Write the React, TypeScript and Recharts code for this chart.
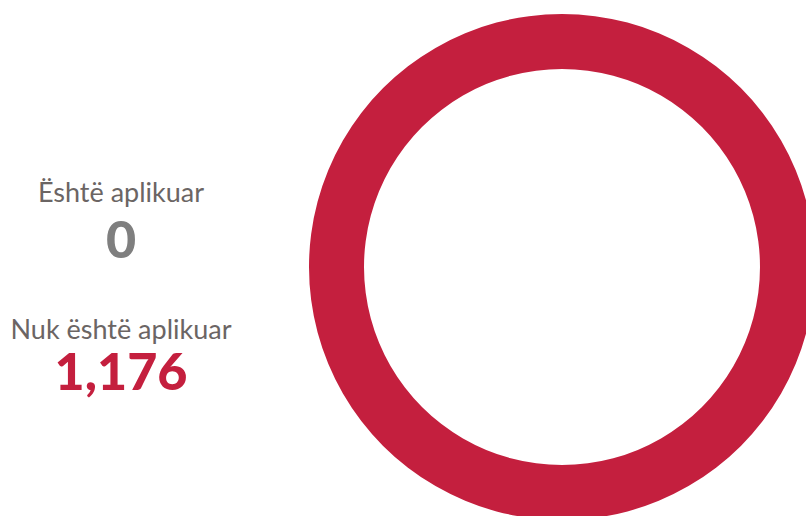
import { PieChart, Pie, Cell, Legend } from "recharts";

const labels = ["Është aplikuar", "Nuk është aplikuar"];
const values = [0, 1176];
const colors = ["#7f7f7f", "#c41f3e"];

const data = labels.map((name, i) => ({ name, value: values[i] }));

// top of each label / number line, in page pixels
const labelTops = [178, 315];
const numberTops = [214, 346];

function Summary() {
  return (
    <div style={{ position: "relative", fontFamily: "Lato, sans-serif", textAlign: "center", width: 242, height: 516 }}>
      {data.map((d, i) => (
        <div key={d.name}>
          <div
            style={{
              position: "absolute",
              left: 0,
              width: 242,
              top: labelTops[i],
              color: "#6b6564",
              fontSize: 27,
              lineHeight: "28px",
            }}
          >
            {d.name}
          </div>
          <div
            style={{
              position: "absolute",
              left: 0,
              width: 242,
              top: numberTops[i],
              color: colors[i],
              fontSize: 52,
              fontWeight: 900,
              lineHeight: "48px",
            }}
          >
            {d.value.toLocaleString("en-US")}
          </div>
        </div>
      ))}
    </div>
  );
}

export default function App() {
  return (
    <div style={{ position: "absolute", left: 0, top: 0, width: 806, height: 516, overflow: "hidden", background: "#fff" }}>
      <PieChart width={806} height={516} margin={{ top: 0, right: 0, bottom: 0, left: 0 }}>
        <Pie
          data={data}
          dataKey="value"
          nameKey="name"
          cx={562}
          cy={267}
          innerRadius={198}
          outerRadius={253}
          startAngle={90}
          endAngle={-270}
          stroke="none"
          isAnimationActive={false}
        >
          {data.map((d, i) => (
            <Cell key={d.name} fill={colors[i]} />
          ))}
        </Pie>
        <Legend
          layout="vertical"
          content={() => <Summary />}
          wrapperStyle={{ left: 0, top: 0, width: 242, height: 516 }}
        />
      </PieChart>
    </div>
  );
}
